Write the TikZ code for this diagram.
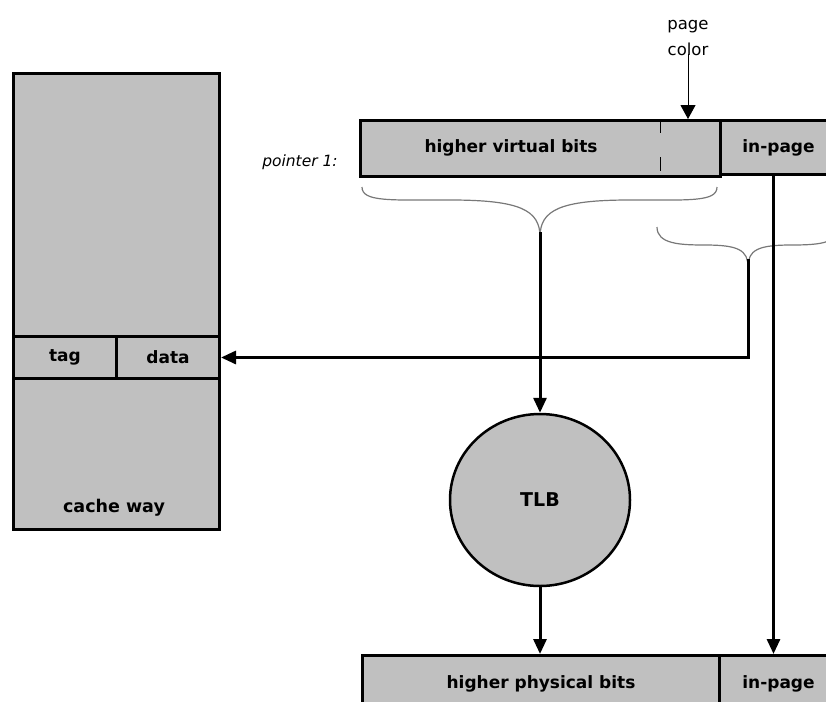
\documentclass[tikz,border=0pt]{standalone}
\usepackage{fontspec}
\setmainfont{DejaVu Sans}
\newfontfamily\boldface{DejaVu Sans Bold}
\usetikzlibrary{positioning,shapes.geometric,arrows.meta}
\definecolor{cellgray}{RGB}{192,192,192}
\definecolor{bracegray}{RGB}{120,120,120}
\newcommand{\labelfont}{\boldface\fontsize{17}{19}\selectfont}

\begin{document}
\begin{tikzpicture}[x=1pt,y=-1pt,
  cell/.style={draw=black,fill=cellgray,line width=3pt,inner sep=0pt,anchor=north west,font=\labelfont},
  flow/.style={draw=black,line width=3pt,-{Triangle[length=15pt,width=13pt]}},
  thinflow/.style={draw=black,line width=1pt,-{Triangle[length=14pt,width=15pt]}},
  curly/.style={draw=bracegray,line width=1.2pt}]
  \useasboundingbox (0,0) rectangle (826,701);
  \clip (0,0) rectangle (826,701);
  % cache way
  \node[cell,minimum width=206pt,minimum height=456pt] (way) at (12,72) {};
  \node[cell,minimum width=103pt,minimum height=42pt] (tag) at (12,335) {tag};
  \node[cell,minimum width=103pt,minimum height=42pt] (data) at (115,335) {data};
  \node[font=\boldface\fontsize{17.5}{19}\selectfont] (waylabel) at (114,508) {cache way};
  % virtual address
  \node[cell,minimum width=360pt,minimum height=56pt] (vbar) at (359,119) {};
  \node[font=\labelfont] (vtext) at (511,148) {higher virtual bits};
  \draw[line width=1pt,dash pattern=on 14pt off 24pt] (vbar.north west) ++(301,0) -- ++(0,56);
  \node[cell,minimum width=116pt,minimum height=54pt] (vpage) at (719,119) {in-page};
  \node[font=\fontsize{15.5}{18}\selectfont\itshape] (pointer) at (300,162) {pointer 1:};
  \node[font=\fontsize{16.5}{26}\selectfont,align=center,inner sep=0pt,anchor=north] (pcolor) at (688,20) {page\\color};
  \draw[thinflow] ([yshift=2pt]pcolor.south) -- (pcolor.south |- vbar.north);
  % braces
  \coordinate (b1tip) at (540,237);
  \coordinate (b2tip) at (748,267);
  \draw[curly] (362,187) .. controls (362,202) and (390,200) .. (450,200)
     .. controls (520,200) and (540,210) .. (b1tip)
     .. controls (540,210) and (560,200) .. (630,200)
     .. controls (690,200) and (717,202) .. (717,187);
  \draw[curly] (657,227) .. controls (657,244) and (680,245) .. (705,245)
     .. controls (738,245) and (748,250) .. (b2tip)
     .. controls (748,250) and (758,245) .. (791,245)
     .. controls (816,245) and (839,244) .. (839,227);
  % TLB and physical address
  \node[ellipse,draw=black,fill=cellgray,line width=2.5pt,minimum width=180pt,minimum height=172pt,
     font=\boldface\fontsize{19}{21}\selectfont] (tlb) at (540,500) {TLB};
  \node[cell,minimum width=357pt,minimum height=56pt] (phigh) at (361,654) {higher physical bits};
  \node[cell,minimum width=118pt,minimum height=56pt] (ppage) at (718,654) {in-page};
  % connectors
  \draw[flow] ([yshift=5pt]b1tip) -- (tlb.north);
  \draw[flow] (tlb.south) -- (tlb.south |- phigh.north);
  \draw[flow] ([yshift=8pt]b2tip) |- (data.east);
  \draw[flow] ([xshift=-5pt]vpage.south) -- ([xshift=-5pt]vpage.south |- ppage.north);
\end{tikzpicture}
\end{document}
